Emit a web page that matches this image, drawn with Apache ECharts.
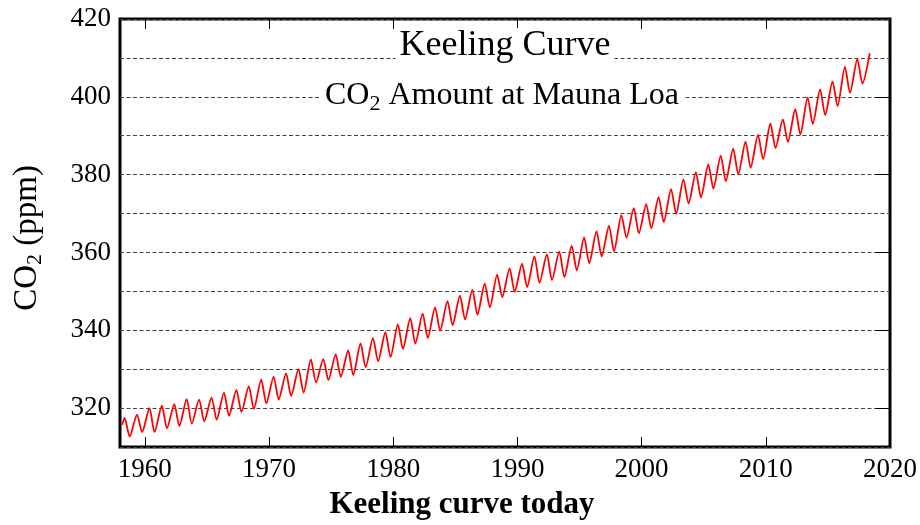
<!DOCTYPE html>
<html>
<head>
<meta charset="utf-8">
<script src="https://cdn.jsdelivr.net/npm/echarts@6/dist/echarts.min.js"></script>
<style>
html,body{margin:0;padding:0;background:#fff;}
#chart{width:920px;height:525px;}
</style>
</head>
<body>
<div id="chart"></div>
<script>
// Start of record (March 1958)
var startPoint = [1958.17, 315.7];
// Years with a seasonal maximum (about May) and minimum (about October)
var years = [1958,1959,1960,1961,1962,1963,1964,1965,1966,1967,1968,1969,1970,1971,1972,1973,1974,1975,1976,1977,1978,1979,1980,1981,1982,1983,1984,1985,1986,1987,1988,1989,1990,1991,1992,1993,1994,1995,1996,1997,1998,1999,2000,2001,2002,2003,2004,2005,2006,2007,2008,2009,2010,2011,2012,2013,2014,2015,2016,2017,2018];
var peakValues = [317.5,318.3,320.0,320.6,321.0,322.3,322.2,322.7,324.0,324.7,325.6,327.3,328.1,328.9,330.0,332.5,332.6,333.8,334.8,336.6,338.0,339.5,341.5,343.1,344.3,345.9,347.5,348.9,350.4,352.0,354.3,355.9,357.1,359.0,359.5,360.2,361.7,363.9,365.4,366.8,369.6,371.4,372.4,374.2,376.3,378.8,380.6,382.6,384.9,386.7,388.5,390.2,393.2,394.2,396.8,399.8,401.9,403.9,407.7,409.7,411.2];
var troughValues = [312.7,313.8,313.8,314.8,315.4,316.0,316.6,317.0,318.0,319.0,319.8,321.2,322.2,323.1,324.0,326.6,327.2,328.0,328.5,330.5,332.0,333.1,335.2,336.6,338.0,339.9,341.3,342.8,344.0,345.9,348.5,349.9,351.1,352.2,352.9,353.7,355.4,357.2,359.0,360.3,363.8,364.9,366.2,367.8,369.9,372.6,374.1,376.4,378.3,380.1,381.8,384.0,386.8,388.4,390.3,393.0,395.3,397.6,401.0,403.4];
var peakOffset = 0.37, troughOffset = 0.78;
var xTickValues = [1960,1970,1980,1990,2000,2010,2020];
var yRightTicks = [320,340,360,380,400];

var seriesData = [startPoint];
for (var i = 0; i < years.length; i++) {
  seriesData.push([years[i] + peakOffset, peakValues[i]]);
  if (i < troughValues.length) seriesData.push([years[i] + troughOffset, troughValues[i]]);
}

var serif = 'Liberation Serif';
var chart = echarts.init(document.getElementById('chart'), null, {renderer: 'canvas'});
chart.setOption({
  animation: false,
  backgroundColor: '#fff',
  grid: {left: 120, right: 30, top: 19, bottom: 78, show: true, borderColor: '#000', borderWidth: 3, backgroundColor: 'transparent'},
  xAxis: [{
    type: 'value', min: 1958, max: 2020, position: 'bottom',
    axisLine: {show: false},
    axisTick: {show: true, inside: true, length: 10, customValues: xTickValues, lineStyle: {color: '#000', width: 1}},
    axisLabel: {show: true, customValues: xTickValues, margin: 9, color: '#000', fontFamily: serif, fontSize: 27,
      formatter: function (v) { return String(v); }},
    splitLine: {show: false}
  }, {
    type: 'value', min: 1958, max: 2020, position: 'top',
    axisLine: {show: false},
    axisTick: {show: true, inside: true, length: 10, customValues: xTickValues, lineStyle: {color: '#000', width: 1}},
    axisLabel: {show: false},
    splitLine: {show: false}
  }],
  yAxis: [{
    type: 'value', min: 310, max: 420, interval: 10, position: 'left',
    axisLine: {show: false},
    axisTick: {show: false},
    axisLabel: {color: '#000', fontFamily: serif, fontSize: 27, margin: 9,
      formatter: function (v) { return v % 20 === 0 ? String(v) : ''; }},
    splitLine: {show: true, lineStyle: {color: '#444', width: 1, type: [4, 2.5]}}
  }, {
    type: 'value', min: 310, max: 420, interval: 10, position: 'right',
    axisLine: {show: false},
    axisTick: {show: true, inside: true, length: 14, customValues: yRightTicks, lineStyle: {color: '#000', width: 1}},
    axisLabel: {show: false},
    splitLine: {show: false}
  }],
  graphic: [
    {type: 'text', x: 505, y: 46, z: 100, style: {
      text: 'Keeling Curve', fontFamily: serif, fontSize: 36, fill: '#000',
      align: 'center', verticalAlign: 'middle', backgroundColor: '#fff', padding: [0, 4, 0, 4]}},
    {type: 'text', x: 502, y: 96, z: 100, style: {
      text: 'CO{sub|2} Amount at Mauna Loa', fontFamily: serif, fontSize: 32, fill: '#000',
      align: 'center', verticalAlign: 'middle', backgroundColor: '#fff', padding: [0, 4, 0, 4],
      rich: {sub: {fontSize: 22, fontFamily: serif, fill: '#000', padding: [16, 0, 0, 0]}}}},
    {type: 'text', x: 27, y: 238, rotation: Math.PI / 2, z: 100, style: {
      text: 'CO{sub|2} (ppm)', fontFamily: serif, fontSize: 33, fill: '#000',
      align: 'center', verticalAlign: 'middle',
      rich: {sub: {fontSize: 22, fontFamily: serif, fill: '#000', padding: [16, 0, 0, 0]}}}},
    {type: 'text', x: 462, y: 505, z: 100, style: {
      text: 'Keeling curve today', fontFamily: serif, fontWeight: 'bold', fontSize: 31, fill: '#000',
      align: 'center', verticalAlign: 'middle'}}
  ],
  series: [{
    type: 'line', xAxisIndex: 0, yAxisIndex: 0,
    data: seriesData, showSymbol: false, smooth: 0.25,
    lineStyle: {color: '#ff0000', width: 1.8}, z: 10
  }]
});
</script>
</body>
</html>
